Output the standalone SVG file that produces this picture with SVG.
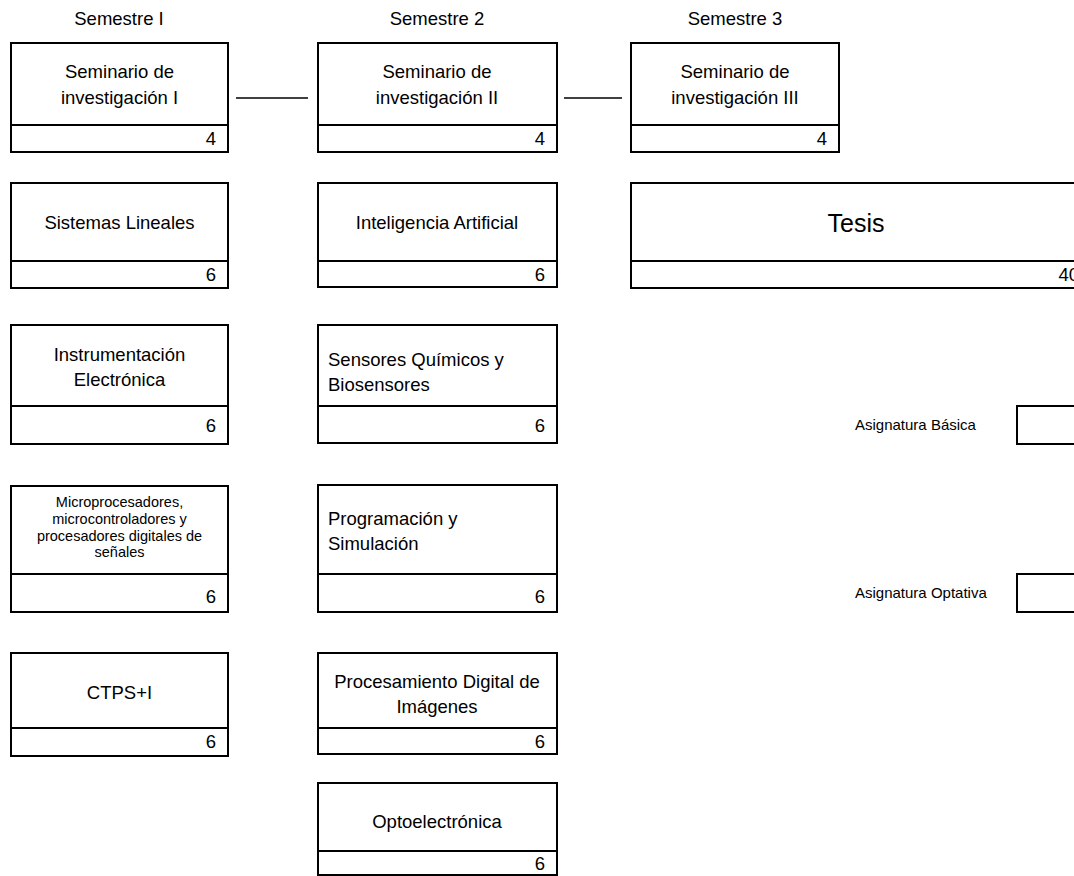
<svg xmlns="http://www.w3.org/2000/svg" width="1074" height="876" viewBox="0 0 1074 876">
<style>
  text { font-family: "Liberation Sans", Arial, sans-serif; fill: #000; }
  .t { font-size: 18.5px; }
  .c { text-anchor: middle; }
  .n { font-size: 18.5px; text-anchor: end; }
  .s { font-size: 14.5px; }
  .lg { font-size: 15px; }
  .big { font-size: 25px; text-anchor: middle; }
  .box { fill: #fff; stroke: #000; stroke-width: 2; }
  .div { stroke: #000; stroke-width: 2; fill: none; }
  .conn { stroke: #000; stroke-width: 1.5; fill: none; }
</style>
<rect width="1074" height="876" fill="#fff"/>

<g id="headers">
  <text class="t c" x="119" y="25">Semestre I</text>
  <text class="t c" x="437" y="25">Semestre 2</text>
  <text class="t c" x="735" y="25">Semestre 3</text>
</g>

<g id="connectors">
  <line class="conn" x1="236" y1="98" x2="308" y2="98"/>
  <line class="conn" x1="564" y1="98" x2="622" y2="98"/>
</g>

<!-- Column 1 -->
<g id="sem1">
  <rect class="box" x="11" y="43" width="217" height="109"/>
  <line class="div" x1="11" y1="125" x2="228" y2="125"/>
  <text class="t c" x="119.5" y="78">Seminario de</text>
  <text class="t c" x="119.5" y="104">investigación I</text>
  <text class="n" x="216" y="145">4</text>
</g>
<g id="sistemas">
  <rect class="box" x="11" y="183" width="217" height="105"/>
  <line class="div" x1="11" y1="261" x2="228" y2="261"/>
  <text class="t c" x="119.5" y="229">Sistemas Lineales</text>
  <text class="n" x="216" y="281">6</text>
</g>
<g id="instrumentacion">
  <rect class="box" x="11" y="325" width="217" height="119"/>
  <line class="div" x1="11" y1="406" x2="228" y2="406"/>
  <text class="t c" x="119.5" y="361">Instrumentación</text>
  <text class="t c" x="119.5" y="386">Electrónica</text>
  <text class="n" x="216" y="432">6</text>
</g>
<g id="micro">
  <rect class="box" x="11" y="486" width="217" height="126"/>
  <line class="div" x1="11" y1="574" x2="228" y2="574"/>
  <text class="s c" x="119.5" y="507">Microprocesadores,</text>
  <text class="s c" x="119.5" y="524">microcontroladores y</text>
  <text class="s c" x="119.5" y="540.5">procesadores digitales de</text>
  <text class="s c" x="119.5" y="557">señales</text>
  <text class="n" x="216" y="603">6</text>
</g>
<g id="ctps">
  <rect class="box" x="11" y="653" width="217" height="103"/>
  <line class="div" x1="11" y1="728" x2="228" y2="728"/>
  <text class="t c" x="119.5" y="699">CTPS+I</text>
  <text class="n" x="216" y="748">6</text>
</g>

<!-- Column 2 -->
<g id="sem2">
  <rect class="box" x="318" y="43" width="239" height="109"/>
  <line class="div" x1="318" y1="125" x2="557" y2="125"/>
  <text class="t c" x="437" y="78">Seminario de</text>
  <text class="t c" x="437" y="104">investigación II</text>
  <text class="n" x="545" y="145">4</text>
</g>
<g id="ia">
  <rect class="box" x="318" y="183" width="239" height="104"/>
  <line class="div" x1="318" y1="261" x2="557" y2="261"/>
  <text class="t c" x="437" y="229">Inteligencia Artificial</text>
  <text class="n" x="545" y="281">6</text>
</g>
<g id="sensores">
  <rect class="box" x="318" y="325" width="239" height="118"/>
  <line class="div" x1="318" y1="406" x2="557" y2="406"/>
  <text class="t" x="328" y="366">Sensores Químicos y</text>
  <text class="t" x="328" y="391">Biosensores</text>
  <text class="n" x="545" y="432">6</text>
</g>
<g id="programacion">
  <rect class="box" x="318" y="485" width="239" height="127"/>
  <line class="div" x1="318" y1="574" x2="557" y2="574"/>
  <text class="t" x="328" y="525">Programación y</text>
  <text class="t" x="328" y="550">Simulación</text>
  <text class="n" x="545" y="603">6</text>
</g>
<g id="pdi">
  <rect class="box" x="318" y="653" width="239" height="101"/>
  <line class="div" x1="318" y1="728" x2="557" y2="728"/>
  <text class="t c" x="437" y="688">Procesamiento Digital de</text>
  <text class="t c" x="437" y="713">Imágenes</text>
  <text class="n" x="545" y="748">6</text>
</g>
<g id="opto">
  <rect class="box" x="318" y="783" width="239" height="92"/>
  <line class="div" x1="318" y1="851" x2="557" y2="851"/>
  <text class="t c" x="437" y="828">Optoelectrónica</text>
  <text class="n" x="545" y="870">6</text>
</g>

<!-- Column 3 -->
<g id="sem3">
  <rect class="box" x="631" y="43" width="208" height="109"/>
  <line class="div" x1="631" y1="125" x2="839" y2="125"/>
  <text class="t c" x="735" y="78">Seminario de</text>
  <text class="t c" x="735" y="104">investigación III</text>
  <text class="n" x="827" y="145">4</text>
</g>
<g id="tesis">
  <rect class="box" x="631" y="183" width="459" height="105"/>
  <line class="div" x1="631" y1="261" x2="1090" y2="261"/>
  <text class="big" x="856" y="232">Tesis</text>
  <text class="n" x="1079" y="281">40</text>
</g>

<!-- Legend -->
<g id="legend-basica">
  <text class="lg" x="855" y="430">Asignatura Básica</text>
  <rect class="box" x="1017" y="406" width="80" height="38"/>
</g>
<g id="legend-optativa">
  <text class="lg" x="855" y="598">Asignatura Optativa</text>
  <rect class="box" x="1017" y="574" width="80" height="38"/>
</g>
</svg>
